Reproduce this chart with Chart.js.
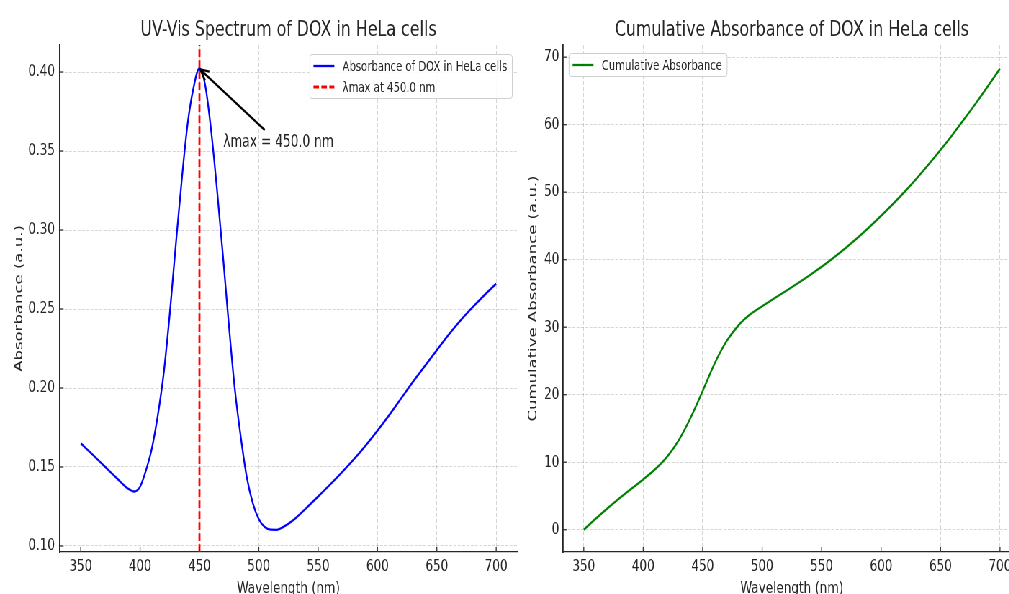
<!DOCTYPE html>
<html><head><meta charset="utf-8">
<script src="https://cdn.jsdelivr.net/npm/chart.js@4.4.1/dist/chart.umd.min.js"></script>
<style>
html,body{margin:0;padding:0;background:#fff;overflow:hidden;width:1009px;height:594px;}
#wrap{position:absolute;left:0;top:0;width:1460px;height:600px;transform:scaleX(0.72);transform-origin:0 0;}
#c1{position:absolute;left:0;top:0;}
#c2{position:absolute;left:720px;top:0;}
</style></head><body>
<div id="wrap"><canvas id="c1" width="750" height="600"></canvas><canvas id="c2" width="720" height="600"></canvas></div>
<script>
// ---------- data ----------
const wavelengths = [350,360,370,380,390,395,400,405,410,415,420,425,430,435,440,445,450,455,460,465,470,475,480,485,490,495,500,505,510,515,520,530,540,550,560,570,580,590,600,610,620,630,640,650,660,670,680,690,700];
const absorbance  = [0.165,0.1578,0.1505,0.1432,0.1362,0.1345,0.1376,0.148,0.162,0.183,0.210,0.247,0.290,0.331,0.367,0.390,0.4023,0.391,0.362,0.324,0.282,0.238,0.198,0.168,0.143,0.127,0.117,0.112,0.1103,0.1102,0.1118,0.1170,0.1240,0.1313,0.1388,0.1466,0.1548,0.1636,0.1730,0.1830,0.1935,0.2040,0.2140,0.2240,0.2338,0.2428,0.2510,0.2587,0.2660];
const cumWavelengths = [350,360,370,380,390,400,410,420,430,440,450,460,470,480,490,500,510,520,530,540,550,560,570,580,590,600,610,620,630,640,650,660,670,680,690,700];
const cumulative = [0,1.62,3.18,4.67,6.08,7.45,8.95,10.8,13.3,16.65,20.55,24.6,27.9,30.25,31.9,33.1,34.25,35.35,36.5,37.7,38.95,40.3,41.7,43.2,44.8,46.5,48.25,50.1,52.05,54.1,56.25,58.5,60.85,63.25,65.75,68.3];
const xTicks = [350,400,450,500,550,600,650,700];
const absTicks = [0.10,0.15,0.20,0.25,0.30,0.35,0.40];
const cumTicks = [0,10,20,30,40,50,60,70];
const lambdaMax = 450.0;
const peakAbs = 0.4023;
const annotationText = 'λmax = 450.0 nm';
const annotationPos = {x: 470, y: 0.3523};
const arrowTail = {x: 505, y: 0.3633};
const xRange = [332.5, 717.5];
const absRange = [0.0962, 0.4171];
const cumRange = [-3.3, 71.8];

// ---------- style ----------
const FONT = "'DejaVu Sans', 'Liberation Sans', sans-serif";
const TXT = '#262626';
const GRID = 'rgba(0,0,0,0.16)';
Chart.defaults.font.family = FONT;
Chart.defaults.color = TXT;

const insideLegend = {
  id: 'insideLegend',
  afterDatasetsDraw(chart, args, o) {
    const {ctx, chartArea} = chart;
    const items = chart.data.datasets;
    ctx.save();
    ctx.font = o.fontSize + 'px ' + FONT;
    const textW = Math.max(...items.map(d => ctx.measureText(d.label).width));
    const w = o.padLeft + o.lineLen + o.gap + textW + o.padRight;
    const h = o.rowH * (items.length - 1) + o.padV * 2;
    const x0 = o.side === 'right' ? chartArea.right - o.margin - w : chartArea.left + o.margin;
    const y0 = chartArea.top + o.marginTop;
    ctx.fillStyle = 'rgba(255,255,255,0.85)';
    ctx.strokeStyle = '#cfcfcf';
    ctx.lineWidth = 1;
    ctx.beginPath();
    ctx.roundRect(x0, y0, w, h, 3);
    ctx.fill();
    ctx.stroke();
    items.forEach((d, i) => {
      const y = y0 + o.padV + i * o.rowH;
      ctx.strokeStyle = d.borderColor;
      ctx.lineWidth = d.borderWidth;
      ctx.setLineDash(d.borderDash || []);
      ctx.beginPath();
      ctx.moveTo(x0 + o.padLeft, y);
      ctx.lineTo(x0 + o.padLeft + o.lineLen, y);
      ctx.stroke();
      ctx.setLineDash([]);
      ctx.fillStyle = TXT;
      ctx.textBaseline = 'middle';
      ctx.textAlign = 'left';
      ctx.fillText(d.label, x0 + o.padLeft + o.lineLen + o.gap, y + 1);
    });
    ctx.restore();
  }
};

const innerTicks = {
  id: 'innerTicks',
  afterDraw(chart) {
    const {ctx, chartArea: a, scales: {x, y}} = chart;
    ctx.save();
    ctx.strokeStyle = '#333';
    ctx.lineWidth = 1.3;
    x.ticks.forEach(t => {
      const px = x.getPixelForValue(t.value);
      ctx.beginPath(); ctx.moveTo(px, a.bottom); ctx.lineTo(px, a.bottom - 5); ctx.stroke();
    });
    y.ticks.forEach(t => {
      const py = y.getPixelForValue(t.value);
      ctx.beginPath(); ctx.moveTo(a.left, py); ctx.lineTo(a.left + 5, py); ctx.stroke();
    });
    ctx.restore();
  }
};

const peakAnnotation = {
  id: 'peakAnnotation',
  afterDatasetsDraw(chart) {
    const {ctx, scales: {x, y}} = chart;
    const tx = x.getPixelForValue(arrowTail.x), ty = y.getPixelForValue(arrowTail.y);
    const hx = x.getPixelForValue(lambdaMax) + 1, hy = y.getPixelForValue(peakAbs) + 1;
    ctx.save();
    ctx.strokeStyle = '#000';
    ctx.lineWidth = 2.4;
    ctx.beginPath(); ctx.moveTo(tx, ty); ctx.lineTo(hx, hy); ctx.stroke();
    const ang = Math.atan2(hy - ty, hx - tx);
    const L = 13, spread = 0.42;
    ctx.beginPath();
    ctx.moveTo(hx - L * Math.cos(ang - spread), hy - L * Math.sin(ang - spread));
    ctx.lineTo(hx, hy);
    ctx.lineTo(hx - L * Math.cos(ang + spread), hy - L * Math.sin(ang + spread));
    ctx.stroke();
    ctx.fillStyle = TXT;
    ctx.font = '17px ' + FONT;
    ctx.textAlign = 'left';
    ctx.textBaseline = 'alphabetic';
    ctx.fillText(annotationText, x.getPixelForValue(annotationPos.x), y.getPixelForValue(annotationPos.y));
    ctx.restore();
  }
};

function makeScales(yRange, yTicks, yFmt, yTitle, yWidth, yTitlePad, yTickPad) {
  return {
    x: {
      type: 'linear', min: xRange[0], max: xRange[1],
      afterBuildTicks: s => { s.ticks = xTicks.map(v => ({value: v})); },
      afterFit: s => { s.height = 48; },
      grid: {color: GRID, lineWidth: 1, drawTicks: false},
      border: {display: true, color: '#262626', width: 1.3, dash: [4, 2]},
      ticks: {padding: 5, color: TXT, font: {size: 16.6}, maxRotation: 0, autoSkip: false},
      title: {display: true, text: 'Wavelength (nm)', color: TXT, font: {size: 16.6}, padding: {top: 0, bottom: 1}}
    },
    y: {
      type: 'linear', min: yRange[0], max: yRange[1],
      afterBuildTicks: s => { s.ticks = yTicks.map(v => ({value: v})); },
      afterFit: s => { s.width = yWidth; },
      grid: {color: GRID, lineWidth: 1, drawTicks: false},
      border: {display: true, color: '#262626', width: 1.8, dash: [4, 2]},
      ticks: {padding: yTickPad, color: TXT, font: {size: 16.6}, autoSkip: false, callback: yFmt},
      title: {display: true, text: yTitle, color: TXT, font: {size: 16.5}, padding: {top: yTitlePad, bottom: 0}}
    }
  };
}

function baseOptions(title, scales, legendOpts, padRight) {
  return {
    responsive: false, animation: false, devicePixelRatio: 1,
    layout: {padding: {left: 0, right: padRight, top: 0, bottom: 0}},
    scales,
    plugins: {
      legend: {display: false},
      tooltip: {enabled: false},
      title: {display: true, text: title, fullSize: false, color: TXT,
              font: {size: 22, weight: 'normal'}, padding: {top: 16.8, bottom: 1.8}},
      insideLegend: legendOpts
    }
  };
}

new Chart(document.getElementById('c1'), {
  type: 'line',
  data: {
    datasets: [
      {label: 'Absorbance of DOX in HeLa cells',
       data: wavelengths.map((w, i) => ({x: w, y: absorbance[i]})),
       borderColor: '#0000ff', borderWidth: 2.3, pointRadius: 0,
       cubicInterpolationMode: 'monotone', order: 1},
      {label: 'λmax at ' + lambdaMax.toFixed(1) + ' nm',
       data: [{x: lambdaMax, y: absRange[0]}, {x: lambdaMax, y: absRange[1]}],
       borderColor: '#ff0000', borderWidth: 2.8, borderDash: [7.7, 3.3], pointRadius: 0, order: 0}
    ]
  },
  options: baseOptions('UV-Vis Spectrum of DOX in HeLa cells',
    makeScales(absRange, absTicks, v => Number(v).toFixed(2), 'Absorbance (a.u.)', 83.3, 16.5, 7),
    {side: 'right', fontSize: 14, padLeft: 5, lineLen: 29, gap: 11.5, padRight: 7, rowH: 21, padV: 11.5, margin: 6.5, marginTop: 9.5},
    32),
  plugins: [innerTicks, insideLegend, peakAnnotation]
});

new Chart(document.getElementById('c2'), {
  type: 'line',
  data: {
    datasets: [
      {label: 'Cumulative Absorbance',
       data: cumWavelengths.map((w, i) => ({x: w, y: cumulative[i]})),
       borderColor: '#008000', borderWidth: 2.3, pointRadius: 0,
       cubicInterpolationMode: 'monotone'}
    ]
  },
  options: baseOptions('Cumulative Absorbance of DOX in HeLa cells',
    makeScales(cumRange, cumTicks, v => String(v), 'Cumulative Absorbance (a.u.)', 61.9, 10.4, 5),
    {side: 'left', fontSize: 14, padLeft: 5, lineLen: 29, gap: 11.5, padRight: 7, rowH: 21, padV: 11.5, margin: 8.4, marginTop: 8.5},
    22.2),
  plugins: [innerTicks, insideLegend]
});
</script>
</body></html>
